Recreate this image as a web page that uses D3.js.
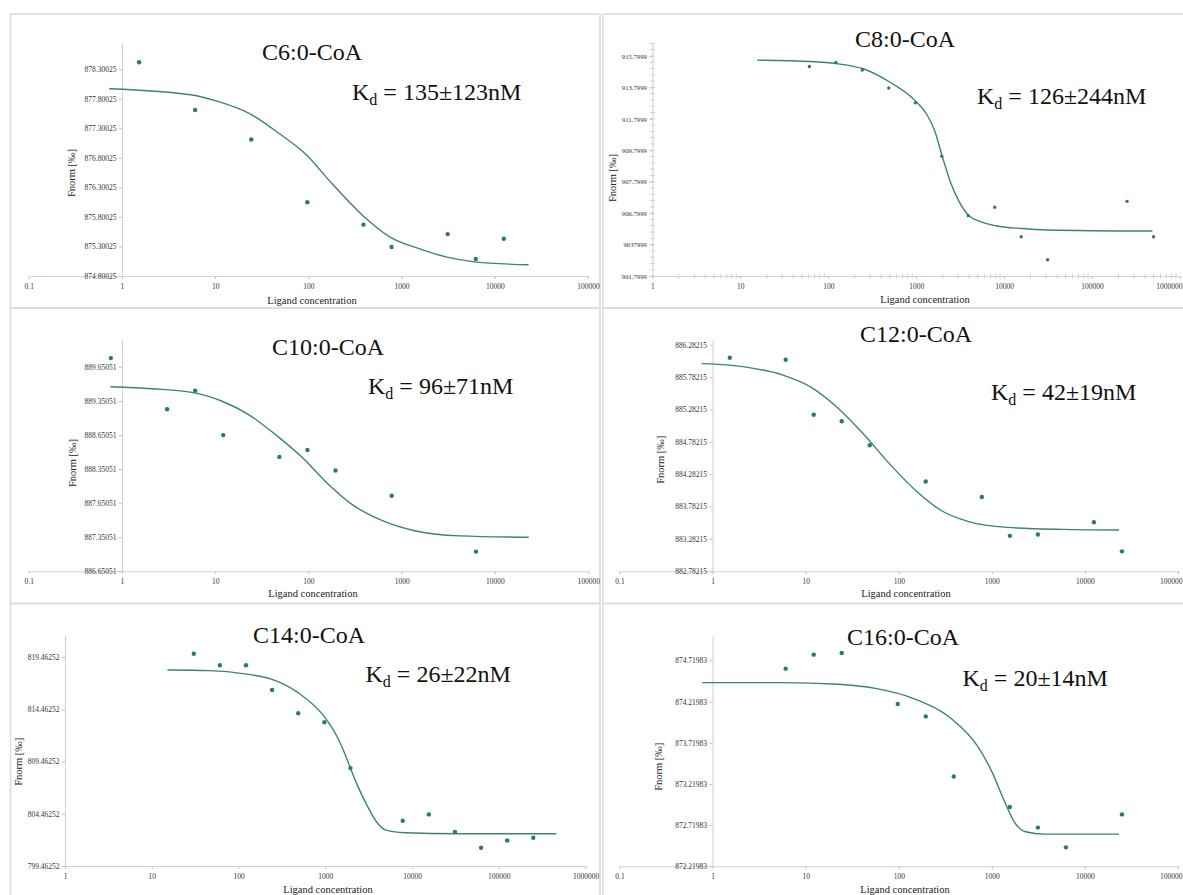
<!DOCTYPE html>
<html><head><meta charset="utf-8">
<script src="https://cdn.jsdelivr.net/npm/d3@7"></script>
<style>
body{margin:0;background:#fff;}
svg{display:block;}
text{font-family:"Liberation Serif","Times New Roman",serif;}
</style>
</head><body>
<svg id="chart" width="1183" height="895"></svg>
<script>
// ---------- data ----------
const titles = ["C6:0-CoA", "C8:0-CoA", "C10:0-CoA", "C12:0-CoA", "C14:0-CoA", "C16:0-CoA"];
const kdValues = ["135±123nM", "126±244nM", "96±71nM", "42±19nM", "26±22nM", "20±14nM"];
const yAxisTitle = "Fnorm [‰]";
const xAxisTitle = "Ligand concentration";

const xTicksLow = [0.1, 1, 10, 100, 1000, 10000, 100000];
const xTickLabelsLow = ["0.1", "1", "10", "100", "1000", "10000", "100000"];
const xTicksHigh = [1, 10, 100, 1000, 10000, 100000, 1000000];
const xTickLabelsHigh = ["1", "10", "100", "1000", "10000", "100000", "1000000"];

// C6:0-CoA
const c6Conc = [1.53, 6.1, 24.4, 97.6, 390, 781, 3125, 6250, 12500];
const c6Fnorm = [878.42, 877.61, 877.11, 876.05, 875.67, 875.29, 875.51, 875.09, 875.43];
const c6FitConc = [0.73, 5.9, 10, 23.4, 47, 94, 178, 380, 753, 1570, 3060, 6100, 23000];
const c6FitFnorm = [877.97, 877.86, 877.77, 877.55, 877.23, 876.86, 876.37, 875.83, 875.46, 875.26, 875.12, 875.04, 874.99];
const c6YTicks = [874.80025, 875.30025, 875.80025, 876.30025, 876.80025, 877.30025, 877.80025, 878.30025];
const c6YTickLabels = ["874.80025", "875.30025", "875.80025", "876.30025", "876.80025", "877.30025", "877.80025", "878.30025"];
const c6YMax = 878.745;

// C8:0-CoA
const c8Conc = [61, 122, 244, 488, 977, 1953, 3906, 7812, 15625, 31250, 250000, 500000];
const c8Fnorm = [915.13, 915.39, 914.91, 913.77, 912.82, 909.42, 905.64, 906.18, 904.30, 902.83, 906.55, 904.30];
const c8FitConc = [15.5, 63, 123, 250, 505, 980, 1320, 1607, 1977, 2500, 3055, 3990, 5280, 8050, 16000, 31000, 486000];
const c8FitFnorm = [915.54, 915.45, 915.32, 914.99, 914.13, 912.94, 912.08, 911.11, 909.42, 907.65, 906.57, 905.64, 905.28, 905.0, 904.82, 904.73, 904.66];
const c8YTicks = [901.7999, 903.7999, 905.7999, 907.7999, 909.7999, 911.7999, 913.7999, 915.7999];
const c8YTickLabels = ["901.7999", "9037999", "906.7999", "907.7999", "909.7999", "911.7999", "913.7999", "915.7999"];
const c8YMax = 916.63;

// C10:0-CoA
const c10Conc = [0.76, 3.05, 6.1, 12.2, 48.8, 97.6, 195, 781, 6250];
const c10Fnorm = [889.78, 889.03, 889.30, 888.65, 888.33, 888.43, 888.13, 887.76, 886.94];
const c10FitConc = [0.75, 2.1, 6, 11.7, 22.8, 44, 86, 152, 295, 630, 1340, 4220, 23000];
const c10FitFnorm = [889.36, 889.33, 889.27, 889.15, 888.95, 888.66, 888.32, 887.97, 887.63, 887.39, 887.25, 887.17, 887.15];
const c10YTicks = [886.65051, 887.15051, 887.65051, 888.15051, 888.65051, 889.15051, 889.65051];
const c10YTickLabels = ["886.65051", "887.35051", "887.65051", "888.35051", "888.65051", "889.35051", "889.65051"];
const c10YMax = 890.05;

// C12:0-CoA
const c12Conc = [1.53, 6.1, 12.2, 24.4, 48.8, 195, 781, 1562, 3125, 12500, 25000];
const c12Fnorm = [886.08, 886.05, 885.20, 885.10, 884.73, 884.17, 883.93, 883.33, 883.35, 883.54, 883.09];
const c12FitConc = [0.76, 2.2, 5.5, 11.6, 22, 42, 81, 155, 295, 565, 1450, 5700, 23200];
const c12FitFnorm = [885.99, 885.94, 885.82, 885.62, 885.31, 884.90, 884.43, 884.02, 883.71, 883.55, 883.46, 883.43, 883.42];
const c12YTicks = [882.78215, 883.28215, 883.78215, 884.28215, 884.78215, 885.28215, 885.78215, 886.28215];
const c12YTickLabels = ["882.78215", "883.28215", "883.78215", "884.28215", "884.78215", "885.28215", "885.78215", "886.28215"];
const c12YMax = 886.36;

// C14:0-CoA
const c14Conc = [30.5, 61, 122, 244, 488, 977, 1953, 7812, 15625, 31250, 62500, 125000, 250000];
const c14Fnorm = [819.78, 818.67, 818.67, 816.31, 814.08, 813.22, 808.83, 803.79, 804.40, 802.71, 801.21, 801.91, 802.17];
const c14FitConc = [15.2, 47, 118, 244, 487, 980, 1343, 1645, 1950, 2340, 3020, 3890, 5020, 8300, 34000, 460000];
const c14FitFnorm = [818.22, 818.16, 817.85, 817.33, 816.05, 813.73, 811.98, 810.39, 808.83, 807.20, 805.29, 803.70, 802.90, 802.65, 802.55, 802.55];
const c14YTicks = [799.46252, 804.46252, 809.46252, 814.46252, 819.46252];
const c14YTickLabels = ["799.46252", "804.46252", "809.46252", "814.46252", "819.46252"];
const c14YMax = 821.57;

// C16:0-CoA
const c16Conc = [6.1, 12.2, 24.4, 97.6, 195, 390, 1562, 3125, 6250, 25000];
const c16Fnorm = [874.62, 874.79, 874.81, 874.19, 874.04, 873.31, 872.94, 872.69, 872.45, 872.85];
const c16FitConc = [0.77, 5.55, 22.4, 56, 142, 360, 690, 1000, 1320, 1740, 2300, 3660, 23200];
const c16FitFnorm = [874.45, 874.45, 874.43, 874.38, 874.26, 874.02, 873.69, 873.37, 873.05, 872.76, 872.64, 872.61, 872.61];
const c16YTicks = [872.21983, 872.71983, 873.21983, 873.71983, 874.21983, 874.71983];
const c16YTickLabels = ["872.21983", "872.71983", "873.21983", "873.71983", "874.21983", "874.71983"];
const c16YMax = 875.02;

// ---------- layout ----------
const panels = [
  {title: titles[0], kd: kdValues[0], conc: c6Conc, fnorm: c6Fnorm, fitC: c6FitConc, fitF: c6FitFnorm,
   yTicks: c6YTicks, yLabels: c6YTickLabels, yMax: c6YMax, xTicks: xTicksLow, xLabels: xTickLabelsLow,
   box: [10.5, 14, 600, 308], xr: [28.7, 588], ax: 276, top: 43,
   tPos: [312, 60], kPos: [352, 100], ylPos: [71, 173], xlPos: [312, 304], r: 2.2, yFont: 7.5, minor: false},
  {title: titles[1], kd: kdValues[1], conc: c8Conc, fnorm: c8Fnorm, fitC: c8FitConc, fitF: c8FitFnorm,
   yTicks: c8YTicks, yLabels: c8YTickLabels, yMax: c8YMax, xTicks: xTicksHigh, xLabels: xTickLabelsHigh,
   box: [603, 14, 1195, 308], xr: [652.4, 1180], ax: 276, top: 43,
   tPos: [905, 46.5], kPos: [977, 104], ylPos: [612, 178], xlPos: [925, 303], r: 1.7, yFont: 6.7, minor: true},
  {title: titles[2], kd: kdValues[2], conc: c10Conc, fnorm: c10Fnorm, fitC: c10FitConc, fitF: c10FitFnorm,
   yTicks: c10YTicks, yLabels: c10YTickLabels, yMax: c10YMax, xTicks: xTicksLow, xLabels: xTickLabelsLow,
   box: [10.5, 308, 600, 603.5], xr: [28.7, 588.2], ax: 571.3, top: 339.7,
   tPos: [328, 354.7], kPos: [368, 394], ylPos: [72, 463], xlPos: [313, 597.3], r: 2.2, yFont: 7.5, minor: false},
  {title: titles[3], kd: kdValues[3], conc: c12Conc, fnorm: c12Fnorm, fitC: c12FitConc, fitF: c12FitFnorm,
   yTicks: c12YTicks, yLabels: c12YTickLabels, yMax: c12YMax, xTicks: xTicksLow, xLabels: xTickLabelsLow,
   box: [603, 308, 1195, 603.5], xr: [619.5, 1178], ax: 571.3, top: 339.7,
   tPos: [916, 341.5], kPos: [991, 400], ylPos: [660.6, 459.7], xlPos: [906, 597.3], r: 2.2, yFont: 7.5, minor: false},
  {title: titles[4], kd: kdValues[4], conc: c14Conc, fnorm: c14Fnorm, fitC: c14FitConc, fitF: c14FitFnorm,
   yTicks: c14YTicks, yLabels: c14YTickLabels, yMax: c14YMax, xTicks: xTicksHigh, xLabels: xTickLabelsHigh,
   box: [10.5, 603.5, 600, 910], xr: [65, 585.5], ax: 866, top: 635,
   tPos: [309, 643], kPos: [365.5, 682], ylPos: [18.4, 761.7], xlPos: [328, 893.3], r: 2.2, yFont: 7.5, minor: false},
  {title: titles[5], kd: kdValues[5], conc: c16Conc, fnorm: c16Fnorm, fitC: c16FitConc, fitF: c16FitFnorm,
   yTicks: c16YTicks, yLabels: c16YTickLabels, yMax: c16YMax, xTicks: xTicksLow, xLabels: xTickLabelsLow,
   box: [603, 603.5, 1195, 910], xr: [619.5, 1178], ax: 866.3, top: 635.7,
   tPos: [903, 645], kPos: [962.5, 686], ylPos: [658.7, 766.7], xlPos: [905, 893.3], r: 2.2, yFont: 7.5, minor: false}
];

const W = 1183;
const svg = d3.select("#chart");
const axisColor = "#d2d2d2";
const dotColor = "#2b7d5b";
const lineColor = "#3b856a";

panels.forEach(p => {
  const g = svg.append("g");
  // panel frame
  g.append("rect")
    .attr("x", p.box[0]).attr("y", p.box[1])
    .attr("width", p.box[2] - p.box[0]).attr("height", p.box[3] - p.box[1])
    .attr("fill", "none").attr("stroke", "#dcdcdc").attr("stroke-width", 1.6);

  const xDom = [p.xTicks[0], p.xTicks[p.xTicks.length - 1]];
  const x = d3.scaleLog().domain(xDom).range(p.xr);
  const y = d3.scaleLinear().domain([p.yTicks[0], p.yMax]).range([p.ax, p.top]);
  const yAxisX = x(1);

  // minor ticks (log x, linear y) for the panel that shows them
  if (p.minor) {
    const minorX = [];
    for (let dec = xDom[0]; dec < xDom[1]; dec *= 10) {
      for (let k = 2; k <= 9; k++) minorX.push(dec * k);
    }
    g.append("g").selectAll("line").data(minorX).join("line")
      .attr("x1", d => x(d)).attr("x2", d => x(d))
      .attr("y1", p.ax - 2.5).attr("y2", p.ax + 2.5)
      .attr("stroke", "#c4c4c4").attr("stroke-width", 0.8);
    const step = (p.yTicks[1] - p.yTicks[0]) / 5;
    const minorY = d3.range(p.yTicks[0], p.yMax, step);
    g.append("g").selectAll("line").data(minorY).join("line")
      .attr("x1", yAxisX - 2.5).attr("x2", yAxisX + 2.5)
      .attr("y1", d => y(d)).attr("y2", d => y(d))
      .attr("stroke", "#c4c4c4").attr("stroke-width", 0.8);
  }

  // x axis
  const xa = g.append("g").attr("transform", `translate(0,${p.ax})`)
    .call(d3.axisBottom(x).tickValues(p.xTicks).tickFormat((d, i) => p.xLabels[i])
      .tickSize(3).tickSizeOuter(0).tickPadding(4.5));
  // y axis
  const ya = g.append("g").attr("transform", `translate(${yAxisX},0)`)
    .call(d3.axisLeft(y).tickValues(p.yTicks).tickFormat((d, i) => p.yLabels[i])
      .tickSize(3).tickSizeOuter(0).tickPadding(2.5));
  [xa, ya].forEach(a => {
    a.select(".domain").attr("stroke", axisColor).attr("stroke-width", 1.1);
    a.selectAll(".tick line").attr("stroke", "#c4c4c4");
    a.selectAll(".tick text").attr("fill", "#333")
      .style("font-family", '"Liberation Serif","Times New Roman",serif');
  });
  xa.selectAll(".tick text").style("font-size", "7.5px");
  ya.selectAll(".tick text").style("font-size", p.yFont + "px");
  // keep tick labels that would run past the right edge inside the picture
  xa.selectAll(".tick text").each(function(d) {
    const w = this.getComputedTextLength();
    const tx = x(d);
    if (tx + w / 2 > W - 1) {
      d3.select(this).attr("text-anchor", "end").attr("x", W - 1 - tx);
    }
  });

  // fit curve
  const fit = p.fitC.map((c, i) => [c, p.fitF[i]]);
  g.append("path").datum(fit)
    .attr("fill", "none").attr("stroke", lineColor).attr("stroke-width", 1.4)
    .attr("d", d3.line().x(d => x(d[0])).y(d => y(d[1])).curve(d3.curveMonotoneX));

  // data points
  const pts = p.conc.map((c, i) => [c, p.fnorm[i]]);
  g.append("g").selectAll("circle").data(pts).join("circle")
    .attr("cx", d => x(d[0])).attr("cy", d => y(d[1])).attr("r", p.r)
    .attr("fill", dotColor);

  // title
  g.append("text").attr("x", p.tPos[0]).attr("y", p.tPos[1])
    .attr("text-anchor", "middle").attr("font-size", 24).attr("fill", "#111")
    .text(p.title);
  // Kd
  const kt = g.append("text").attr("x", p.kPos[0]).attr("y", p.kPos[1])
    .attr("font-size", 24).attr("fill", "#111");
  kt.append("tspan").text("K");
  kt.append("tspan").attr("font-size", 16).attr("dy", 5).text("d");
  kt.append("tspan").attr("dy", -5).text(" = " + p.kd);

  // axis titles
  g.append("text").attr("transform", `translate(${p.ylPos[0]},${p.ylPos[1]}) rotate(-90)`)
    .attr("text-anchor", "middle").attr("dy", "0.35em").attr("font-size", 10.5).attr("fill", "#222")
    .text(yAxisTitle);
  g.append("text").attr("x", p.xlPos[0]).attr("y", p.xlPos[1])
    .attr("text-anchor", "middle").attr("font-size", 10.5).attr("fill", "#222")
    .text(xAxisTitle);
});
</script>
</body></html>
